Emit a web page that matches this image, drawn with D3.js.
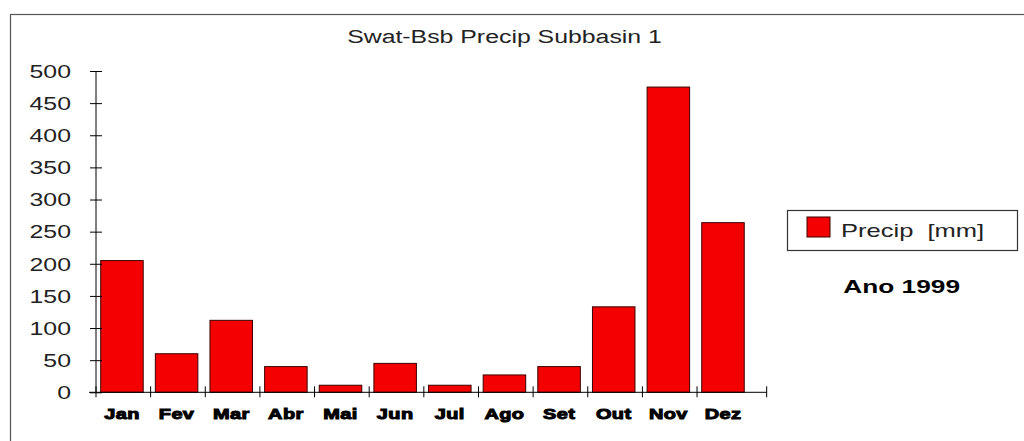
<!DOCTYPE html>
<html>
<head>
<meta charset="utf-8">
<script src="https://cdn.jsdelivr.net/npm/d3@7"></script>
<style>
  body { margin: 0; background: #fff; }
  svg { display: block; }
  text { font-family: "Liberation Sans", Arial, sans-serif; fill: #222; }
</style>
</head>
<body>
<div id="chart"></div>
<script>
// data
var months = ["Jan", "Fev", "Mar", "Abr", "Mai", "Jun", "Jul", "Ago", "Set", "Out", "Nov", "Dez"];
var precip = [205, 60, 112, 40, 11, 45, 11, 27, 40, 133, 475, 264];
var yTicks = [0, 50, 100, 150, 200, 250, 300, 350, 400, 450, 500];
var title = "Swat-Bsb Precip Subbasin 1";
var legendLabel = "Precip  [mm]";
var yearLabel = "Ano 1999";

var width = 1024, height = 441;
var stretch = 1.38; // text in the picture is drawn wide

var svg = d3.select("#chart")
    .append("svg")
    .attr("width", width)
    .attr("height", height);

// outer frame (runs off the right and bottom edges)
svg.append("rect")
    .attr("x", 10.5)
    .attr("y", 14.5)
    .attr("width", 1030)
    .attr("height", 440)
    .attr("fill", "none")
    .attr("stroke", "#555")
    .attr("stroke-width", 1.2);

var left = 96, zeroY = 392.3, topY = 71;
var step = 54.64;

var x = d3.scaleBand()
    .domain(months)
    .range([left, left + months.length * step])
    .padding(0);

var y = d3.scaleLinear()
    .domain([0, 500])
    .range([zeroY, topY]);

var barOffset = x.bandwidth() * 0.086;
var barWidth = x.bandwidth() * 0.778;
var axisEnd = x.range()[1] + 15;

// title
svg.append("text")
    .attr("transform", "translate(504.5,43.3) scale(" + stretch + ",1)")
    .attr("text-anchor", "middle")
    .style("font-size", "18px")
    .text(title);

// bars
svg.selectAll("rect.bar")
    .data(precip)
    .enter().append("rect")
    .attr("class", "bar")
    .attr("x", function(d, i) { return x(months[i]) + barOffset; })
    .attr("y", function(d) { return y(d); })
    .attr("width", barWidth)
    .attr("height", function(d) { return y(0) - y(d); })
    .attr("fill", "#f40000")
    .attr("stroke", "#3a0000")
    .attr("stroke-width", 1);

// y axis
var yAxis = d3.axisLeft(y)
    .tickValues(yTicks)
    .tickSize(6);

var gy = svg.append("g")
    .attr("class", "axis axis--y")
    .attr("transform", "translate(" + left + ",0)")
    .call(yAxis);

gy.select(".domain")
    .attr("d", "M0," + y(500) + "V" + y(0))
    .attr("stroke", "#000");

gy.selectAll(".tick line")
    .attr("x1", 6)
    .attr("x2", -6)
    .attr("stroke", "#000");

gy.selectAll(".tick text")
    .attr("x", 0)
    .attr("dy", "0.35em")
    .attr("transform", "translate(-25,0) scale(" + stretch + ",1)")
    .style("font-size", "18px")
    .style("font-family", "'Liberation Sans', Arial, sans-serif")
    .attr("fill", "#222");

// x axis: line plus ticks at the band edges
var gx = svg.append("g")
    .attr("class", "axis axis--x");

gx.append("line")
    .attr("x1", left - 7)
    .attr("x2", axisEnd)
    .attr("y1", zeroY)
    .attr("y2", zeroY)
    .attr("stroke", "#000");

var edges = months.map(function(m) { return x(m); }).concat([axisEnd]);

gx.selectAll("line.edge")
    .data(edges)
    .enter().append("line")
    .attr("class", "edge")
    .attr("x1", function(d) { return d; })
    .attr("x2", function(d) { return d; })
    .attr("y1", zeroY - 6)
    .attr("y2", zeroY + 5)
    .attr("stroke", "#000");

gx.selectAll("text.month")
    .data(months)
    .enter().append("text")
    .attr("class", "month")
    .attr("transform", function(m) {
        return "translate(" + (x(m) + barOffset + barWidth / 2) + ",419) scale(1.33,1)";
    })
    .attr("text-anchor", "middle")
    .style("font-size", "15px")
    .style("font-weight", "bold")
    .style("letter-spacing", "0.3px")
    .style("fill", "#000")
    .style("stroke", "#000")
    .style("stroke-width", 1)
    .text(function(m) { return m; });

// legend
var legend = svg.append("g").attr("class", "legend");

legend.append("rect")
    .attr("x", 787.5)
    .attr("y", 210.5)
    .attr("width", 230)
    .attr("height", 40)
    .attr("fill", "#fff")
    .attr("stroke", "#333")
    .attr("stroke-width", 1.2);

legend.append("rect")
    .attr("x", 807)
    .attr("y", 217)
    .attr("width", 23)
    .attr("height", 20)
    .attr("fill", "#f40000")
    .attr("stroke", "#3a0000");

legend.append("text")
    .attr("transform", "translate(841,237.3) scale(" + stretch + ",1)")
    .style("font-size", "18.5px")
    .style("white-space", "pre")
    .text(legendLabel);

svg.append("text")
    .attr("transform", "translate(843.3,292.7) scale(1.42,1)")
    .style("font-size", "18.5px")
    .style("font-weight", "bold")
    .style("fill", "#000")
    .text(yearLabel);
</script>
</body>
</html>
